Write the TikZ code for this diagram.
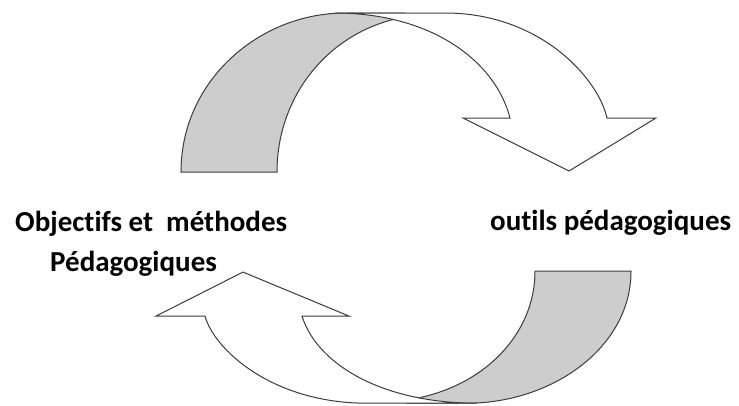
\documentclass[tikz,border=0pt]{standalone}
\usepackage{fontspec}
\setmainfont{Carlito}[Ligatures=NoCommon]
\usepackage{xcolor}
\usetikzlibrary{positioning}
\definecolor{grisdos}{RGB}{205,205,205}
\definecolor{gristrait}{RGB}{60,60,60}

\tikzset{
	dos/.style={draw=gristrait,line width=1pt,fill=grisdos},
	face/.style={draw=gristrait,line width=1pt,fill=white},
	titre/.style={anchor=base west,inner sep=0pt,font=\fontsize{29}{33}\selectfont\bfseries}
}

% une fleche courbe (partie grise puis partie blanche par dessus)
\newcommand{\flechecourbe}{%
	\draw[dos] (181,172) .. controls (181,80) and (260,13) .. (345,13) -- (405,13) -- (405,17)
		.. controls (330,30) and (277,95) .. (277,172) -- cycle;
	\draw[face] (335,13) -- (445,13) .. controls (540,13) and (598,78) .. (607,118)
		-- (656,118) -- (569,171) -- (463,118) -- (510,118)
		.. controls (495,60) and (430,13) .. (335,13) -- cycle;
}

\begin{document}
\begin{tikzpicture}[x=1pt,y=-1pt]
	\useasboundingbox (0,0) rectangle (739,405);
	% fleche du haut
	\flechecourbe
	% fleche du bas
	\begin{scope}[shift={(812,414)},xscale=-1,yscale=-0.83]
		\flechecourbe
	\end{scope}
	
	\node[titre] (objectifs) at (15,231) {Objectifs et\ \ méthodes};
	\node[titre] (pedago) at (50,271) {Pédagogiques};
	\node[titre] (outils) at (490,230) {outils pédagogiques};
\end{tikzpicture}
\end{document}
